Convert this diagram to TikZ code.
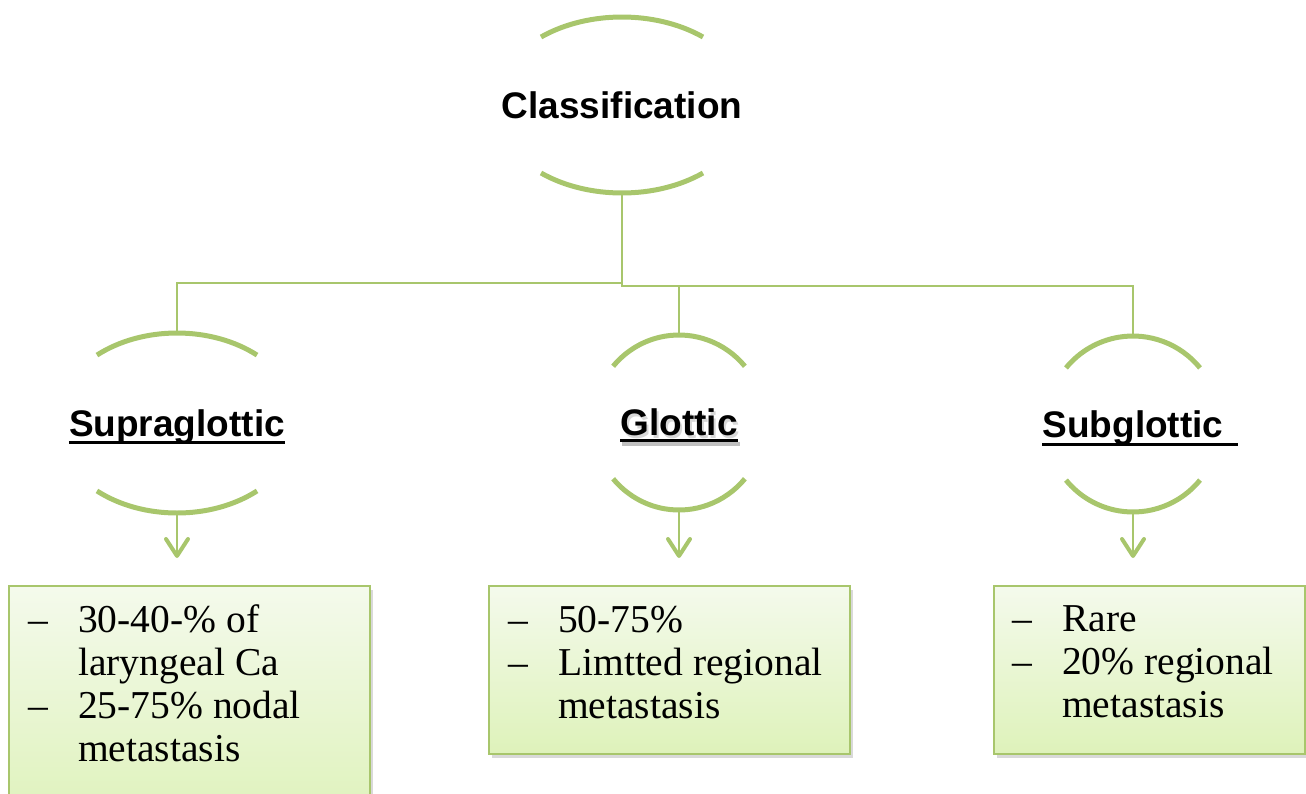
\documentclass[tikz,border=0pt]{standalone}
\usepackage{fontspec}
\setmainfont{Liberation Serif}
\newfontfamily\headfont{Liberation Sans}
\usetikzlibrary{arrows.meta,shadows,calc}

\definecolor{arcgreen}{HTML}{A8C66C}
\definecolor{boxtop}{HTML}{F4FAEC}
\definecolor{boxbottom}{HTML}{DEF2BA}
\newcommand{\dashitem}{\makebox[50pt][l]{--}}
\newcommand{\contline}{\hspace*{50pt}}

\begin{document}
\begin{tikzpicture}[x=1pt,y=1pt,
  head/.style={rectangle, inner sep=0pt, text height=26pt, text depth=0pt,
    font=\headfont\fontsize{37}{40}\selectfont\bfseries},
  brace/.style={arcgreen, line width=5pt},
  link/.style={arcgreen, line width=2pt},
  flow/.style={arcgreen, line width=2.5pt,
    -{Straight Barb[length=17pt,width=22pt,line width=4pt,round]}, shorten >=27pt},
  uline/.style={black, line width=3pt},
  infobox/.style={rectangle, anchor=north west, draw=arcgreen, line width=2pt,
    top color=boxtop, bottom color=boxbottom,
    drop shadow={shadow xshift=3pt, shadow yshift=-4pt, opacity=0.3}},
  items/.style={anchor=base west, inner sep=0pt, font=\fontsize{39.5}{43}\selectfont}]
\useasboundingbox (0,0) rectangle (1306,-793);

% Headings
\node[head, minimum height=176pt] (cls) at (622,-105) {Classification};
\node[head, minimum height=180pt] (supra) at (177,-423) {Supraglottic};
\node[head, text=black!30, opacity=0.5] (glotshadow) at (681,-425.5) {Glottic};
\node[head, minimum height=175pt] (glot) at (679,-422.5) {Glottic};
\node[head, minimum height=176pt, xshift=7pt] (sub) at (1133,-424) {Subglottic\kern14pt};

% Underlines
\draw[uline] ([yshift=-6pt]supra.base west) -- ([yshift=-6pt]supra.base east);
\draw[uline, black!25, line width=4pt] ([shift={(2,-8)}]glot.base west) -- ([shift={(2,-8)}]glot.base east);
\draw[uline] ([yshift=-5pt]glot.base west) -- ([yshift=-5pt]glot.base east);
\draw[uline] ([yshift=-7pt]sub.base west) -- ([yshift=-7pt]sub.base east);

% Arcs
\draw[brace] ($(cls.center)+(50.6:127.6 and 88)$) arc[start angle=50.6, end angle=129.4, x radius=127.6, y radius=88];
\draw[brace] ($(cls.center)+(-50.6:127.6 and 88)$) arc[start angle=-50.6, end angle=-129.4, x radius=127.6, y radius=88];
\draw[brace] ($(supra.center)+(49:122 and 90)$) arc[start angle=49, end angle=131, x radius=122, y radius=90];
\draw[brace] ($(supra.center)+(-49:122 and 90)$) arc[start angle=-49, end angle=-131, x radius=122, y radius=90];
\draw[brace] ($(glot.center)+(40:86 and 87.5)$) arc[start angle=40, end angle=140, x radius=86, y radius=87.5];
\draw[brace] ($(glot.center)+(-40:86 and 87.5)$) arc[start angle=-40, end angle=-140, x radius=86, y radius=87.5];
\draw[brace] ($(sub.center)+(-7,0)+(39.6:87 and 88)$) arc[start angle=39.6, end angle=140.4, x radius=87, y radius=88];
\draw[brace] ($(sub.center)+(-7,0)+(-39.6:87 and 88)$) arc[start angle=-39.6, end angle=-140.4, x radius=87, y radius=88];

% Tree lines
\draw[link] (cls.south) -- ++(0,-90) -| (supra.north);
\draw[link] (cls.south) -- ++(0,-93) -| (glot.north);
\draw[link] (cls.south) -- ++(0,-93) -| ([xshift=-7pt]sub.north);

% Boxes
\node[infobox, minimum width=361pt, minimum height=240pt] (sbox) at (8,-585) {};
\node[infobox, minimum width=361pt, minimum height=168pt] (gbox) at (488,-585) {};
\node[infobox, minimum width=311pt, minimum height=168pt] (bbox) at (993,-585) {};

\node[items] (stext) at ($(sbox.north west)+(20,-47)$) {\begin{tabular}[t]{@{}l@{}}
  \dashitem 30-40-\% of\\ \contline laryngeal Ca\\ \dashitem 25-75\% nodal\\ \contline metastasis\end{tabular}};
\node[items] (gtext) at ($(gbox.north west)+(20,-47)$) {\begin{tabular}[t]{@{}l@{}}
  \dashitem 50-75\%\\ \dashitem Limtted regional\\ \contline metastasis\end{tabular}};
\node[items] (btext) at ($(bbox.north west)+(19,-46)$) {\begin{tabular}[t]{@{}l@{}}
  \dashitem Rare\\ \dashitem 20\% regional\\ \contline metastasis\end{tabular}};

% Arrows
\draw[flow] (supra.south) -- (supra.south |- sbox.north);
\draw[flow] (glot.south) -- (glot.south |- gbox.north);
\draw[flow] ([xshift=-7pt]sub.south) -- ([xshift=-7pt]sub.south |- bbox.north);
\end{tikzpicture}
\end{document}
